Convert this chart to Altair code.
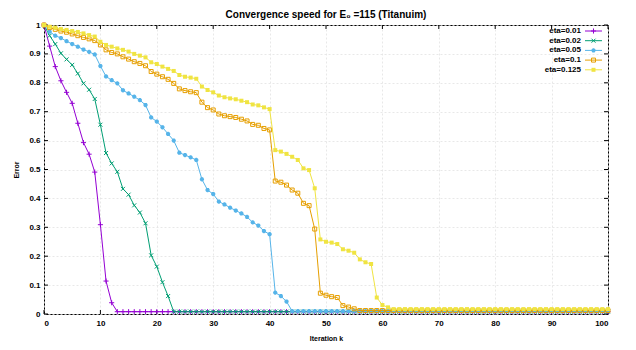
import altair as alt
import pandas as pd

FONT = "Liberation Sans Narrow, Liberation Sans, Arial, sans-serif"

series_names = ["eta=0.01", "eta=0.02", "eta=0.05", "eta=0.1", "eta=0.125"]
series_colors = ["#9400d3", "#009e73", "#56b4e9", "#e69f00", "#f0e442"]

# values, k = 0, 1, 2, ...
eta_001_head = [1.0, 0.927, 0.856, 0.807, 0.767, 0.729, 0.66, 0.593, 0.553, 0.491,
                0.309, 0.114, 0.039]
eta_001_tail = 0.008
eta_002_head = [1.0, 0.963, 0.934, 0.902, 0.881, 0.862, 0.832, 0.798, 0.776, 0.744,
                0.655, 0.557, 0.521, 0.492, 0.433, 0.413, 0.376, 0.351, 0.314, 0.203,
                0.164, 0.110, 0.062]
eta_002_tail = 0.008
eta_005_head = [1.0, 0.977, 0.963, 0.955, 0.944, 0.934, 0.925, 0.915, 0.907, 0.898,
                0.858, 0.822, 0.809, 0.798, 0.774, 0.763, 0.752, 0.74, 0.723, 0.68,
                0.666, 0.646, 0.623, 0.6, 0.558, 0.55, 0.542, 0.533, 0.466, 0.429,
                0.415, 0.389, 0.379, 0.368, 0.358, 0.348, 0.336, 0.317, 0.306, 0.287,
                0.276, 0.074, 0.062, 0.043]
eta_005_tail = 0.01
eta_01_head = [1.0, 0.991, 0.985, 0.979, 0.975, 0.969, 0.963, 0.957, 0.952, 0.946,
               0.931, 0.914, 0.905, 0.9, 0.89, 0.882, 0.873, 0.867, 0.859, 0.839,
               0.83, 0.821, 0.812, 0.798, 0.779, 0.773, 0.769, 0.766, 0.733, 0.714,
               0.706, 0.692, 0.686, 0.683, 0.68, 0.674, 0.668, 0.656, 0.653, 0.642,
               0.637, 0.46, 0.456, 0.446, 0.429, 0.418, 0.383, 0.375, 0.294, 0.072,
               0.065, 0.06, 0.057, 0.029, 0.024, 0.018]
eta_01_tail = 0.012
eta_0125_head = [1.0, 0.994, 0.991, 0.986, 0.983, 0.979, 0.976, 0.971, 0.965, 0.96,
                 0.942, 0.931, 0.925, 0.919, 0.914, 0.908, 0.9, 0.894, 0.888, 0.871,
                 0.865, 0.856, 0.848, 0.841, 0.827, 0.821, 0.818, 0.814, 0.787, 0.775,
                 0.767, 0.756, 0.75, 0.746, 0.743, 0.738, 0.733, 0.725, 0.722, 0.715,
                 0.709, 0.567, 0.562, 0.554, 0.544, 0.533, 0.504, 0.498, 0.435, 0.258,
                 0.25, 0.247, 0.242, 0.224, 0.219, 0.212, 0.189, 0.179, 0.173, 0.057,
                 0.031, 0.023]
eta_0125_tail = 0.017

n_iter = 101
heads = [eta_001_head, eta_002_head, eta_005_head, eta_01_head, eta_0125_head]
tails = [eta_001_tail, eta_002_tail, eta_005_tail, eta_01_tail, eta_0125_tail]

x_ticks = [0, 10, 20, 30, 40, 50, 60, 70, 80, 90, 100]
y_ticks = [0, 0.1, 0.2, 0.3, 0.4, 0.5, 0.6, 0.7, 0.8, 0.9, 1.0]

W, H = 564, 289

shapes = [
    ("M-1,0L1,0M0,-1L0,1", False, 26, 1.0),
    ("M-1,-1L1,1M-1,1L1,-1", False, 16, 1.0),
    ("M-1,0L1,0M0,-1L0,1M-0.7,-0.7L0.7,0.7M-0.7,0.7L0.7,-0.7", False, 18, 1.4),
    ("square", False, 16, 1.0),
    ("square", True, 16, 1.0),
]

xscale = alt.Scale(domain=[0, 100], nice=False, zero=False)
yscale = alt.Scale(domain=[0, 1], nice=False, zero=False)
xaxis = alt.Axis(values=x_ticks, title="Iteration k", grid=True, ticks=False,
                 domain=False, labelPadding=5, titlePadding=7, format="d",
                 labelOverlap=False)
yaxis = alt.Axis(values=y_ticks, title="Error", grid=True, ticks=False,
                 domain=False, labelPadding=4, titlePadding=9, format="~g",
                 labelOverlap=False)


def X(field="k:Q"):
    return alt.X(field, scale=xscale, axis=xaxis)


def Y(field="v:Q"):
    return alt.Y(field, scale=yscale, axis=yaxis)


layers = []

# inward ticks on the border
xt = pd.DataFrame({"k": x_ticks})
yt = pd.DataFrame({"v": y_ticks})
for (a, b) in [(H, H - 4), (0, 4)]:
    layers.append(alt.Chart(xt).mark_rule(color="black", strokeWidth=1).encode(
        x=X(), y=alt.value(a), y2=alt.value(b)))
for (a, b) in [(0, 4), (W, W - 4)]:
    layers.append(alt.Chart(yt).mark_rule(color="black", strokeWidth=1).encode(
        y=Y(), x=alt.value(a), x2=alt.value(b)))

for i, name in enumerate(series_names):
    vals = heads[i] + [tails[i]] * (n_iter - len(heads[i]))
    df = pd.DataFrame({"k": list(range(n_iter)), "v": vals})
    col = series_colors[i]
    shp, filled, size, sw = shapes[i]
    line = alt.Chart(df).mark_line(color=col, strokeWidth=1).encode(x=X(), y=Y())
    pts = alt.Chart(df).mark_point(shape=shp, filled=filled, color=col, size=size,
                                   strokeWidth=sw, opacity=1).encode(x=X(), y=Y())
    layers += [line, pts]

    # manual legend (label left, sample right, as in the original)
    yy = 6 + 9.7 * i
    ldf = pd.DataFrame({"series": [name]})
    layers.append(alt.Chart(ldf).mark_text(align="right", baseline="middle", font=FONT,
                                           fontSize=8, fontWeight="bold", color="black").encode(
        text="series:N", x=alt.value(537), y=alt.value(yy)))
    layers.append(alt.Chart(ldf).mark_rule(color=col, strokeWidth=1).encode(
        x=alt.value(541), x2=alt.value(558), y=alt.value(yy)))
    layers.append(alt.Chart(ldf).mark_point(shape=shp, filled=filled, color=col, size=size,
                                            strokeWidth=sw, opacity=1).encode(
        x=alt.value(549.5), y=alt.value(yy)))

chart = alt.layer(*layers).properties(
    width=W, height=H,
    autosize=alt.AutoSizeParams(type="none"),
    padding={"left": 36, "top": 17, "right": 20, "bottom": 30},
    title=alt.TitleParams("Convergence speed for E\u2080 =115 (Titanuim)", font=FONT,
                          fontSize=10, fontWeight="bold", anchor="middle", offset=5,
                          dy=5, color="black"),
).configure_view(stroke="black", strokeWidth=1).configure_axis(
    labelFont=FONT, titleFont=FONT, labelFontSize=8, titleFontSize=7,
    labelFontWeight="bold", titleFontWeight="bold", labelColor="black", titleColor="black",
    gridColor="#e2e2e2", gridDash=[2, 2], gridWidth=0.8,
)

chart.save("out.html", embed_options={"renderer": "svg", "actions": False})
